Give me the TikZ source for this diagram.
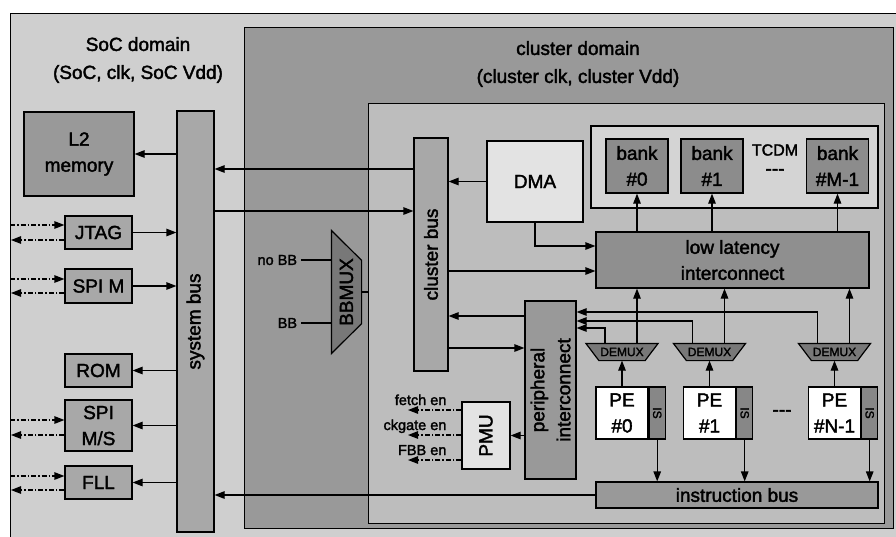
\documentclass[tikz,border=0pt]{standalone}
\usepackage{fontspec}
\setmainfont{Liberation Sans}[FakeBold=2]
\usetikzlibrary{arrows.meta,calc}
\definecolor{socbg}{gray}{0.81}
\definecolor{clbg}{gray}{0.60}
\definecolor{inbg}{gray}{0.74}
\definecolor{tcdmbg}{gray}{0.83}
\definecolor{bankgray}{gray}{0.55}
\definecolor{l2gray}{gray}{0.60}
\definecolor{busgray}{gray}{0.66}
\definecolor{dmagray}{gray}{0.89}
\definecolor{llgray}{gray}{0.56}
\definecolor{isgray}{gray}{0.53}
\definecolor{muxgray}{gray}{0.47}
\newcommand{\bigtxt}{\fontsize{19}{26}\selectfont}
\newcommand{\domtxt}{\fontsize{19}{28}\selectfont}
\newcommand{\lbltxt}{\fontsize{14.5}{17}\selectfont}
\newcommand{\tinytxt}{\fontsize{12}{14}\selectfont}

\begin{document}
\begin{tikzpicture}[x=1pt,y=-1pt,line width=1.2pt,>={Triangle[length=10pt,width=7.5pt]},
          blk/.style={draw,fill=#1,inner sep=0pt,align=center,font=\bigtxt},
          dd/.style={->,dash pattern=on 5pt off 2pt on 1.5pt off 2pt},
          vtxt/.style={rotate=90,align=center,font=\bigtxt}]
          \useasboundingbox (0,0) rectangle (896,536);
          % domains
          \node[blk=socbg,anchor=north west,minimum width=890,minimum height=530] (soc) at (10,13) {};
          \node[blk=clbg,anchor=north west,minimum width=649,minimum height=501] (cldom) at (244,27) {};
          \node[blk=inbg,anchor=north west,minimum width=516,minimum height=420] (clin) at (368,103) {};
          \node[align=center,font=\domtxt] (soclbl) at (138,60) {SoC domain\\(SoC, clk, SoC Vdd)};
          \node[align=center,font=\domtxt] (cllbl) at (578,64) {cluster domain\\(cluster clk, cluster Vdd)};
          % SoC side
          \node[blk=l2gray,minimum width=110,minimum height=84] (l2) at (79,154) {L2\\memory};
          \node[blk=busgray,minimum width=37,minimum height=421,label={[vtxt]center:system bus}] (sysbus) at (195.5,321.5) {};
          \node[blk=busgray,minimum width=67,minimum height=33] (jtag) at (98.5,232.5) {JTAG};
          \node[blk=busgray,minimum width=67,minimum height=34] (spim) at (98.5,286) {SPI M};
          \node[blk=busgray,minimum width=67,minimum height=33] (rom) at (98.5,370.5) {ROM};
          \node[blk=busgray,minimum width=67,minimum height=51] (spims) at (98.5,425.5) {SPI\\M/S};
          \node[blk=busgray,minimum width=67,minimum height=33] (fll) at (98.5,482.5) {FLL};
          \draw[->] (sysbus.west |- l2) -- (l2.east);
          \foreach \b in {jtag,spim}
            {\draw[->] (\b.east) -- (sysbus.west |- \b);}
          \foreach \b in {rom,spims,fll}
            {\draw[->] (sysbus.west |- \b) -- (\b.east);}
          \coordinate (socedge) at (10,0);
          \foreach \b/\ya/\yb in {jtag/225/240,spim/279/293,spims/420/435,fll/476/490}
            {\draw[dd] (socedge |- 0,\ya) -- (\b.west |- 0,\ya);
             \draw[dd] (\b.west |- 0,\yb) -- ($(socedge |- 0,\yb)+(1,0)$);}
          % cluster
          \node[blk=busgray,minimum width=34,minimum height=233,label={[vtxt]center:cluster bus}] (clbus) at (431,254.5) {};
          \node[blk=dmagray,minimum width=96,minimum height=81] (dma) at (535,181.5) {DMA};
          \node[blk=tcdmbg,minimum width=287,minimum height=82] (tcdm) at (734.5,167) {};
          \node[font=\fontsize{16}{18}\selectfont] (tcdmlbl) at (775,150) {TCDM};
          \node[font=\bigtxt] (bankdots) at (775,172) {-{}-{}-};
          \foreach \i/\x/\lbl in {0/637/0,1/712/1,2/837.5/M-1}
            {\node[blk=bankgray,minimum width=62,minimum height=54] (bank\i) at (\x,166) {bank\\\#\lbl};}
          \node[blk=llgray,minimum width=273,minimum height=56] (ll) at (732.5,260) {low latency\\interconnect};
          \node[blk=l2gray,minimum width=51,minimum height=178,label={[vtxt]center:peripheral\\interconnect}] (per) at (550.5,390) {};
          \node[blk=dmagray,minimum width=48,minimum height=67,label={[vtxt]center:PMU}] (pmu) at (486,435.5) {};
          \node[blk=l2gray,minimum width=282,minimum height=26] (ibus) at (737,495) {instruction bus};
          \node[font=\bigtxt] (pedots) at (782,413) {-{}-{}-};
          % body bias mux
          \node[minimum width=29,minimum height=122,inner sep=0pt] (bbmux) at (346.5,292) {};
          \filldraw[fill=muxgray] (bbmux.north west) -- ($(bbmux.north east)+(0,30)$)
            -- ($(bbmux.south east)+(0,-30)$) -- (bbmux.south west) -- cycle;
          \node[vtxt] (bbmuxlbl) at (bbmux) {BBMUX};
          \coordinate (bbin) at (301,0);
          \draw (bbin |- 0,260) node[left,font=\lbltxt] (nobb) {no BB} -- (bbmux.west |- 0,260);
          \draw (bbin |- 0,323) node[left,font=\lbltxt] (bb) {BB} -- (bbmux.west |- 0,323);
          \draw (bbmux.east) -- (clin.west |- bbmux.east);
          % PEs and demuxes
          \foreach \i/\x/\lbl/\py in {0/622/0/328,1/709.5/1/321,2/834.5/N-1/312}
            {\node[blk=white,minimum width=52,minimum height=52] (pe\i) at (\x,413) {PE\\\#\lbl};
             \node[blk=isgray,minimum width=16,minimum height=52,anchor=west,
               label={[rotate=-90,font=\tinytxt]center:IS}] (is\i) at (pe\i.east) {};
             \node[minimum width=71,minimum height=16,inner sep=0pt] (dmx\i) at (\x,352) {};
             \filldraw[fill=muxgray] (dmx\i.north west) -- (dmx\i.north east)
               -- ($(dmx\i.south east)+(-13,0)$) -- ($(dmx\i.south west)+(13,0)$) -- cycle;
             \node[font=\tinytxt,inner sep=0pt] (dmxlbl\i) at (dmx\i) {DEMUX};
             \draw[->] (pe\i) -- (dmx\i.south);
             \draw[->] ($(dmx\i.north)+(15,0)$) -- ($(ll.south -| dmx\i.north)+(15,0)$);
             \draw[->] ($(dmx\i.north)+(-17,0)$) |- (per.east |- 0,\py);
             \draw[->] (is\i) -- (ibus.north -| is\i);}
          % buses
          \draw[->] (clbus.west |- 0,169) -- (sysbus.east |- 0,169);
          \draw[->] (sysbus.east |- 0,211) -- (clbus.west |- 0,211);
          \draw[->] (ibus.west) -- (sysbus.east |- ibus);
          \draw[->] (dma.west) -- (clbus.east |- dma);
          \draw[->] (dma.south) |- ($(ll.west)+(0,-14)$);
          \draw[->] (clbus.east |- 0,271) -- (ll.west |- 0,271);
          \foreach \i in {0,1,2}
            {\draw[->] (ll.north -| bank\i) -- (bank\i.south);}
          \draw[->] (per.west |- 0,316) -- (clbus.east |- 0,316);
          \draw[->] (clbus.east |- 0,348) -- (per.west |- 0,348);
          \draw[->] (per.west |- pmu) -- (pmu.east);
          \coordinate (pmuout) at (408,0);
          \foreach \y/\t in {410/fetch en,435/ckgate en,460/FBB en}
            {\draw[dd] (pmu.west |- 0,\y) -- (pmuout |- 0,\y);
             \node[font=\lbltxt,anchor=base east,inner sep=0pt] (pmulbl\y) at (447,\y-5) {\t};}
\end{tikzpicture}
\end{document}
